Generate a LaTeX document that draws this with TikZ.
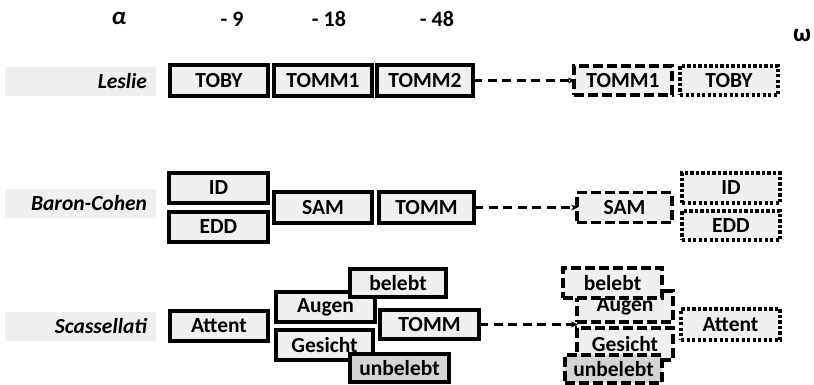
\documentclass[tikz,border=0pt]{standalone}
\usepackage{fontspec}
\setmainfont{Carlito}
\usetikzlibrary{arrows.meta}

\definecolor{boxfill}{HTML}{EFEFEF}
\definecolor{deadfill}{HTML}{D4D4D4}
\definecolor{bandfill}{HTML}{EFEFEF}

\tikzset{
  stage/.style={draw, line width=3.3pt, fill=boxfill, inner sep=0pt, outer sep=0pt,
    minimum height=30pt, font=\bfseries\fontsize{21.5}{21.5}\selectfont},
  futurestage/.style={stage, dash pattern=on 10pt off 4pt},
  paststage/.style={stage, dash pattern=on 3.3pt off 2.2pt},
  modelname/.style={fill=bandfill, minimum width=151pt, minimum height=29pt, inner sep=0pt,
    text width=133pt, align=right, font=\bfseries\itshape\fontsize{21.5}{21.5}\selectfont},
  axislabel/.style={font=\bfseries\fontsize{22}{22}\selectfont},
  flow/.style={-{Stealth[length=7pt,width=6pt,sep=-1pt]}, line width=2.2pt, dash pattern=on 9pt off 5.5pt},
}

\begin{document}
\begin{tikzpicture}[x=1pt, y=-1pt, line join=miter]
  \useasboundingbox (0,0) rectangle (814,385);

  % time axis
  \node[axislabel, font=\bfseries\itshape\fontsize{25}{25}\selectfont] (alpha) at (119,18) {α};
  \node[axislabel] (tA) at (232,19) {- 9};
  \node[axislabel] (tB) at (329,19) {- 18};
  \node[axislabel] (tC) at (437,19) {- 48};
  \node[axislabel, font=\bfseries\fontsize{25}{25}\selectfont] (omega) at (802,36) {ω};

  % Leslie
  \node[modelname] (les) at (80.5,81.5) {Leslie};
  \node[stage, minimum width=98pt, minimum height=31pt] (lesToby) at (219,80.5) {TOBY};
  \node[stage, minimum width=98pt, minimum height=31pt] (lesTommA) at (323,80.5) {TOMM1};
  \node[stage, minimum width=96pt, minimum height=31pt] (lesTommB) at (425,80.5) {TOMM2};
  \node[futurestage, minimum width=98pt, minimum height=29pt] (lesRTommA) at (623,80.5) {TOMM1};
  \node[paststage, minimum width=98pt, minimum height=29pt] (lesRToby) at (729,80.5) {TOBY};
  \draw[flow] (lesTommB) -- (lesRTommA);

  % Baron-Cohen
  \node[modelname] (bc) at (80.5,203.5) {Baron-Cohen};
  \node[stage, minimum width=99pt] (bcId) at (218.5,188) {ID};
  \node[stage, minimum width=99pt] (bcEdd) at (218.5,227) {EDD};
  \node[stage, minimum width=98pt, minimum height=31pt] (bcSam) at (323,207.5) {SAM};
  \node[stage, minimum width=95pt, minimum height=31pt] (bcTomm) at (426.5,207.5) {TOMM};
  \node[futurestage, minimum width=95pt] (bcRSam) at (624.5,207.5) {SAM};
  \node[paststage, minimum width=98pt] (bcRId) at (731,188) {ID};
  \node[paststage, minimum width=98pt, minimum height=29pt] (bcREdd) at (731,225.5) {EDD};
  \draw[flow] (bcTomm) -- (bcRSam);

  % Scassellati
  \node[modelname] (sc) at (80.5,326.5) {Scassellati};
  \node[stage, minimum width=98pt] (scAttent) at (219,326) {Attent};
  \node[stage, minimum width=99pt] (scAugen) at (325.5,307) {Augen};
  \node[stage, minimum width=96pt, minimum height=28pt] (scBelebt) at (398,283) {belebt};
  \node[stage, minimum width=99pt, minimum height=29pt] (scTomm) at (429.5,324.5) {TOMM};
  \node[stage, minimum width=97pt] (scGesicht) at (324.5,345) {Gesicht};
  \node[stage, fill=deadfill, minimum width=99pt, minimum height=28pt] (scUnbelebt) at (399.5,368) {unbelebt};
  \node[futurestage, minimum width=96pt, minimum height=31pt] (scRAugen) at (625,306.5) {Augen};
  \node[futurestage, minimum width=99pt] (scRBelebt) at (612.5,283) {belebt};
  \node[futurestage, minimum width=96pt, minimum height=32pt] (scRGesicht) at (625,344) {Gesicht};
  \node[futurestage, fill=deadfill, minimum width=97pt, minimum height=28pt] (scRUnbelebt) at (613.5,369) {unbelebt};
  \node[paststage, minimum width=99pt, minimum height=31pt] (scRAttent) at (730.5,324.5) {Attent};
  \draw[flow] (scTomm.east) -- (scTomm.east -| scRAugen.west);
\end{tikzpicture}
\end{document}
